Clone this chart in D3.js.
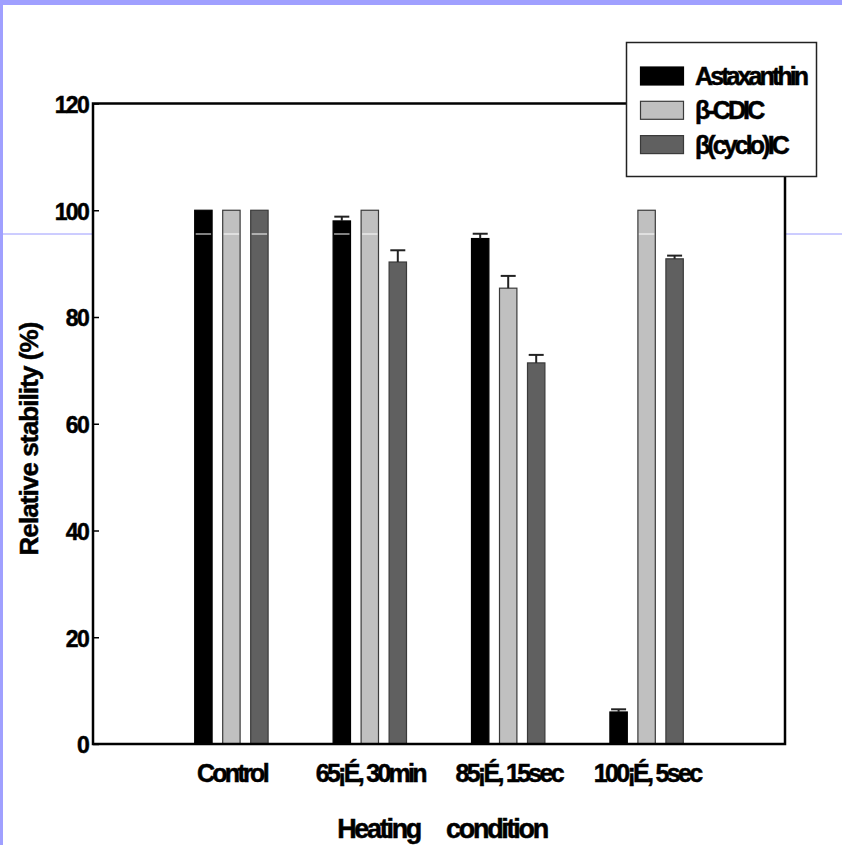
<!DOCTYPE html>
<html>
<head>
<meta charset="utf-8">
<script src="https://cdn.jsdelivr.net/npm/d3@7/dist/d3.min.js"></script>
<style>
  html, body { margin: 0; padding: 0; background: #fff; }
  svg { display: block; }
  text { font-family: "Liberation Sans", Arial, sans-serif; font-weight: bold; fill: #000;
         stroke: #000; stroke-width: 0.5px; }
</style>
</head>
<body>
<script>
// Heating conditions (x categories)
const categories = ["Control", "65¡É, 30min", "85¡É, 15sec", "100¡É, 5sec"];
// Series
const seriesNames = ["Astaxanthin", "β-CDIC", "β(cyclo)IC"];
const astaxanthin = [100, 98.0, 94.7, 6.0];
const betaCDIC = [100, 100, 85.4, 100];
const betaCycloIC = [100, 90.3, 71.4, 90.9];
// Upper error bars (0 = none drawn)
const astaxanthinErr = [0, 0.8, 0.9, 0.5];
const betaCDICErr = [0, 0, 2.3, 0];
const betaCycloICErr = [0, 2.2, 1.5, 0.6];
// Y axis ticks
const yTicks = [0, 20, 40, 60, 80, 100, 120];

const W = 842, H = 845;
const fills = ["#000000", "#c0c0c0", "#606060"];
const values = [astaxanthin, betaCDIC, betaCycloIC];
const errors = [astaxanthinErr, betaCDICErr, betaCycloICErr];

const svg = d3.select("body").append("svg").attr("width", W).attr("height", H);

const plotLeft = 93, plotRight = 785, plotTop = 103.5, plotBottom = 744;
const x = d3.scaleLinear().domain([0, 5]).range([plotLeft, plotRight]);
const y = d3.scaleLinear().domain([0, 120]).range([plotBottom, plotTop]);

// page frame: lavender band on top and left
svg.append("rect").attr("x", 0).attr("y", 0).attr("width", W).attr("height", 5).attr("fill", "#a0a0ff");
svg.append("rect").attr("x", 0).attr("y", 0).attr("width", 3).attr("height", H).attr("fill", "#a0a0ff");
// thin guide line across the page
const guideY = 234;
svg.append("line").attr("x1", 3).attr("x2", W).attr("y1", guideY).attr("y2", guideY)
  .attr("stroke", "#9a9aff").attr("stroke-width", 1);
// plot area
svg.append("rect").attr("x", plotLeft).attr("y", plotTop)
  .attr("width", plotRight - plotLeft).attr("height", plotBottom - plotTop)
  .attr("fill", "#fff");

// bars
const barW = 17.4, pitch = 28;
const barData = [];
categories.forEach((c, i) => {
  seriesNames.forEach((s, j) => {
    barData.push({ i, j, v: values[j][i], e: errors[j][i] });
  });
});
const bx = d => x(d.i + 1) + (d.j - 1) * pitch - barW / 2;

const bars = svg.append("g");
bars.selectAll("rect").data(barData).join("rect")
  .attr("x", bx)
  .attr("y", d => y(d.v))
  .attr("width", barW)
  .attr("height", d => y(0) - y(d.v))
  .attr("fill", d => fills[d.j])
  .attr("stroke", d => d.j === 0 ? "#000" : "#3a3a3a")
  .attr("stroke-width", 1.2);

// guide line shows through the bars in white
bars.selectAll("line.guide").data(barData.filter(d => y(d.v) < guideY - 1)).join("line")
  .attr("class", "guide")
  .attr("x1", d => bx(d) + 1).attr("x2", d => bx(d) + barW - 1)
  .attr("y1", guideY).attr("y2", guideY)
  .attr("stroke", "#fff").attr("stroke-width", 1);

// error bars (upper only)
const errs = svg.append("g").attr("stroke", "#222").attr("stroke-width", 2);
barData.filter(d => d.e > 0).forEach(d => {
  const cx = bx(d) + barW / 2;
  errs.append("line").attr("x1", cx).attr("x2", cx).attr("y1", y(d.v)).attr("y2", y(d.v + d.e));
  errs.append("line").attr("x1", cx - 7.5).attr("x2", cx + 7.5).attr("y1", y(d.v + d.e)).attr("y2", y(d.v + d.e));
});

// y axis
const yAxis = svg.append("g").attr("transform", `translate(${plotLeft},0)`)
  .call(d3.axisLeft(y).tickValues(yTicks).tickSizeInner(-6).tickSizeOuter(0).tickPadding(5));
yAxis.select(".domain").remove();
yAxis.selectAll(".tick line").attr("stroke", "#000").attr("stroke-width", 1.5);
yAxis.selectAll(".tick text")
  .attr("font-size", 23).attr("dy", "0.38em")
  .style("letter-spacing", "-1.7px");

// x axis
const xAxis = svg.append("g").attr("transform", `translate(0,${plotBottom})`)
  .call(d3.axisBottom(x).tickValues([1, 2, 3, 4]).tickFormat(v => categories[v - 1]).tickSize(0));
xAxis.select(".domain").remove();
xAxis.selectAll(".tick text")
  .attr("font-size", 25).attr("y", 38).attr("dy", 0)
  .style("letter-spacing", "-2.7px");

// frame
svg.append("rect").attr("x", plotLeft).attr("y", plotTop)
  .attr("width", plotRight - plotLeft).attr("height", plotBottom - plotTop)
  .attr("fill", "none").attr("stroke", "#000").attr("stroke-width", 2.5);

// axis titles
svg.append("text")
  .attr("x", (plotLeft + plotRight) / 2 + 3).attr("y", 838)
  .attr("text-anchor", "middle").attr("font-size", 27)
  .style("white-space", "pre").style("letter-spacing", "-2.3px")
  .text("Heating     condition");
svg.append("text")
  .attr("transform", "translate(38,439) rotate(-90)")
  .attr("text-anchor", "middle").attr("font-size", 26)
  .style("letter-spacing", "-0.9px")
  .text("Relative stability (%)");

// legend
const lg = svg.append("g");
lg.append("rect").attr("x", 626.5).attr("y", 42.5).attr("width", 190).attr("height", 134)
  .attr("fill", "#fff").attr("stroke", "#222").attr("stroke-width", 1.5);
seriesNames.forEach((s, j) => {
  const yy = 67 + j * 34.3;
  lg.append("rect").attr("x", 640.5).attr("y", yy).attr("width", 43).attr("height", 18)
    .attr("fill", fills[j]).attr("stroke", j === 0 ? "#000" : "#3a3a3a").attr("stroke-width", 1.2);
  lg.append("text")
    .attr("x", 695).attr("y", yy + 18)
    .attr("font-size", 25)
    .style("letter-spacing", "-2.9px")
    .text(s);
});
</script>
</body>
</html>
